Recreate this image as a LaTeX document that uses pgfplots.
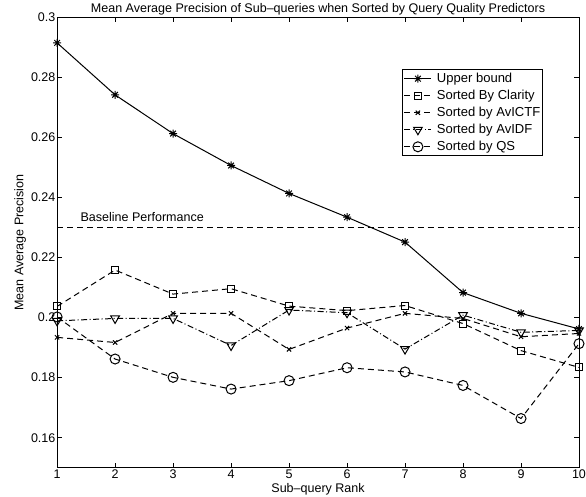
\documentclass[border=0pt]{standalone}
\usepackage{pgfplots}
\pgfplotsset{compat=1.18}
\usepackage{fontspec}
\setmainfont{Liberation Sans}
\pgfdeclareplotmark{mstar}{%
  \pgfpathmoveto{\pgfqpoint{-\pgfplotmarksize}{0pt}}\pgfpathlineto{\pgfqpoint{\pgfplotmarksize}{0pt}}%
  \pgfpathmoveto{\pgfqpoint{0pt}{-\pgfplotmarksize}}\pgfpathlineto{\pgfqpoint{0pt}{\pgfplotmarksize}}%
  \pgfpathmoveto{\pgfqpoint{-0.707\pgfplotmarksize}{-0.707\pgfplotmarksize}}\pgfpathlineto{\pgfqpoint{0.707\pgfplotmarksize}{0.707\pgfplotmarksize}}%
  \pgfpathmoveto{\pgfqpoint{-0.707\pgfplotmarksize}{0.707\pgfplotmarksize}}\pgfpathlineto{\pgfqpoint{0.707\pgfplotmarksize}{-0.707\pgfplotmarksize}}%
  \pgfusepathqstroke}
\begin{document}
\fontsize{12.5}{14}\selectfont
\begin{tikzpicture}
\begin{axis}[
  scale only axis, width=521pt, height=450pt,
  xmin=1, xmax=10, ymin=0.15, ymax=0.3,
  xtick={1,2,3,4,5,6,7,8,9,10},
  ytick={0.16,0.18,0.2,0.22,0.24,0.26,0.28,0.3},
  yticklabels={0.16,0.18,0.2,0.22,0.24,0.26,0.28,0.3},
  tick align=inside, major tick length=5pt,
  /pgf/number format/assume math mode=true,
  tick label style={font=\fontsize{12.5}{14}\selectfont},
  xticklabel style={inner sep=1.5pt},
  yticklabel style={inner sep=1.5pt},
  axis line style={line width=0.8pt},
  every tick/.style={black, line width=0.6pt},
  title={Mean Average Precision of Sub–queries when Sorted by Query Quality Predictors},
  every axis title shift=0pt,
  title style={font=\fontsize{12.5}{14}\selectfont, at={(axis description cs:0.5,1.017)}, anchor=center},
  xlabel={Sub–query Rank},
  ylabel={Mean Average Precision},
  label style={font=\fontsize{12.5}{14}\selectfont},
  xlabel style={at={(axis description cs:0.5,-0.047)}, anchor=center},
  ylabel style={at={(axis description cs:-0.071,0.5)}, anchor=center},
  legend cell align=left,
  legend style={at={(0.660,0.884)}, anchor=north west, draw=black, line width=0.7pt,
    fill=white, font=\fontsize{13}{15}\selectfont, inner xsep=2pt, inner ysep=2.5pt,
    nodes={inner sep=0pt, text height=10pt, text depth=3pt}, row sep=4pt},
  legend image code/.code={\draw[mark repeat=2,mark phase=2] plot coordinates {(0pt,0pt)(13.5pt,0pt)(27pt,0pt)};},
  legend style={/tikz/every odd column/.append style={column sep=5pt}},
]
\addplot[black, line width=1pt, solid, mark=mstar, mark options={solid, mark size=4pt}]
  coordinates {(1,0.2914)(2,0.2741)(3,0.2612)(4,0.2506)(5,0.2413)(6,0.2334)(7,0.2251)(8,0.2083)(9,0.2014)(10,0.1962)};
\addlegendentry{Upper bound}
\addplot[black, line width=1pt, dash pattern=on 6pt off 4pt, mark=square, mark options={solid, mark size=3.5pt}]
  coordinates {(1,0.2037)(2,0.2158)(3,0.2078)(4,0.2096)(5,0.2038)(6,0.2023)(7,0.2040)(8,0.1980)(9,0.1890)(10,0.1834)};
\addlegendentry{Sorted By Clarity}
\addplot[black, line width=1pt, dash pattern=on 6pt off 4pt, mark=x, mark options={solid, mark size=3pt}]
  coordinates {(1,0.1934)(2,0.1917)(3,0.2014)(4,0.2014)(5,0.1894)(6,0.1965)(7,0.2014)(8,0.1997)(9,0.1936)(10,0.1947)};
\addlegendentry{Sorted by AvICTF}
\addplot[black, line width=1pt, dash pattern=on 6pt off 2.5pt on 1pt off 2.5pt, mark=triangle, mark options={solid, rotate=180, mark size=5pt}]
  coordinates {(1,0.1989)(2,0.1997)(3,0.1997)(4,0.1907)(5,0.2025)(6,0.2016)(7,0.1895)(8,0.2008)(9,0.1951)(10,0.1957)};
\addlegendentry{Sorted by AvIDF}
\addplot[black, line width=1pt, dash pattern=on 6pt off 4pt, mark=o, mark options={solid, mark size=5pt}]
  coordinates {(1,0.2002)(2,0.1862)(3,0.1801)(4,0.1762)(5,0.1790)(6,0.1833)(7,0.1819)(8,0.1774)(9,0.1664)(10,0.1913)};
\addlegendentry{Sorted by QS}
\addplot[black, line width=1pt, dash pattern=on 6pt off 4pt, forget plot] coordinates {(1,0.23)(10,0.23)};
\node[anchor=west, font=\fontsize{12.5}{14}\selectfont] at (axis cs:1.33,0.2333) {Baseline Performance};
\end{axis}
\pgfresetboundingbox
\path ([shift={(-57pt,-29pt)}]current axis.south west) rectangle ([shift={(7pt,17pt)}]current axis.north east);
\end{tikzpicture}
\end{document}
